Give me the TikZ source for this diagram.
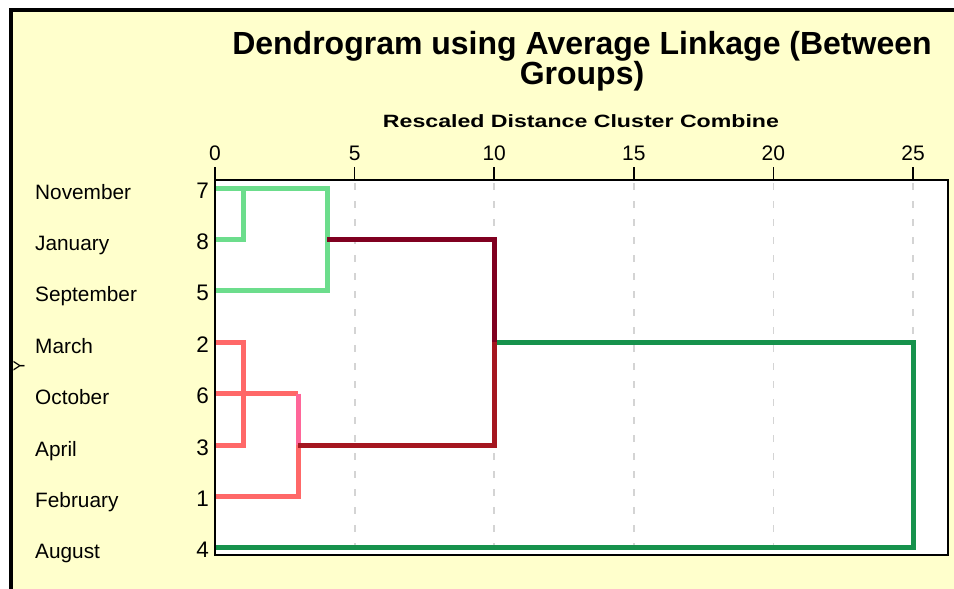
\documentclass[tikz,border=0pt]{standalone}
\usepackage{fontspec}
\setmainfont{Liberation Sans}
\usepackage{graphicx}
\usepackage{xcolor}
\usetikzlibrary{calc,positioning}

\definecolor{bgyellow}{RGB}{255,255,204}
\definecolor{lightgreen}{RGB}{108,221,140}
\definecolor{salmon}{RGB}{255,104,104}
\definecolor{pinkred}{RGB}{255,102,153}
\definecolor{darkred}{RGB}{165,22,32}
\definecolor{maroon}{RGB}{128,0,32}
\definecolor{darkgreen}{RGB}{22,146,76}
\definecolor{gridgray}{RGB}{212,212,212}

\tikzset{
  branch/.style={line width=5pt, line join=miter},
  monthlbl/.style={anchor=base west, inner sep=0pt, font=\fontsize{20.8}{20.8}\selectfont},
  caselbl/.style={anchor=base east, inner sep=0pt, font=\fontsize{22.5}{22.5}\selectfont},
  ticklbl/.style={anchor=base, inner sep=0pt, font=\fontsize{21}{21}\selectfont},
}

\begin{document}
\begin{tikzpicture}[x=1pt,y=-1pt]
\useasboundingbox (0,0) rectangle (954,589);
\fill[white] (0,0) rectangle (954,589);
\fill[bgyellow] (9,8) rectangle (954,589);

% titles
\node[inner sep=0pt, align=center, anchor=north, font=\bfseries\fontsize{32}{30}\selectfont] (title) at (582,31) {Dendrogram using Average Linkage (Between\\Groups)};
\node[inner sep=0pt, anchor=base] (xlabel) at (581,127) {\scalebox{1.3}[1]{\bfseries\fontsize{17.8}{17.8}\selectfont Rescaled Distance Cluster Combine}};

% plot area and scale
\fill[white] (215,180) rectangle (948,555);
\foreach \d in {5,10,...,25}
  \draw[gridgray, line width=1.8pt, dash pattern=on 7pt off 11pt] ({215+27.92*\d},183) -- ({215+27.92*\d},554);
\foreach \d in {0,5,...,25} {
  \draw[black, line width=1.6pt] ({215+27.92*\d},167) -- ({215+27.92*\d},180);
  \node[ticklbl] (t\d) at ({215+27.92*\d},160) {\d};
}

% cases
\foreach \c/\m [count=\i from 0] in {7/November,8/January,5/September,2/March,6/October,3/April,1/February,4/August} {
  \coordinate (r\c) at (215,{188+51.4*\i});
  \node[monthlbl] (m\c) at (35,{199+51.4*\i}) {\m};
  \node[caselbl] (n\c) at (209,{198+51.4*\i}) {\c};
}

% merge levels
\coordinate (d1) at (243,180);
\coordinate (d3) at (298,180);
\coordinate (d4) at (327,180);
\coordinate (d10) at (494,180);
\coordinate (d25) at (913,180);

% branches
\draw[branch, darkgreen] (r2 -| d10) -| (r4 -| d25) -- (r4);
\draw[branch, lightgreen] (r8) -| (r7 -| d1);
\draw[branch, lightgreen] (r7) -- (r7 -| d4) -- (r5 -| d4) -- (r5);
\draw[branch, salmon] (r2) -| (r3 -| d1) -- (r3);
\draw[branch, salmon] (r6) -- (r6 -| d3);
\draw[branch, salmon] (r1) -| (r3 -| d3);
\draw[branch, pinkred] (r6 -| d3) -- (r3 -| d3);
\draw[branch, darkred] (r3 -| d3) -| (r2 -| d10);
\draw[branch, maroon] (r2 -| d10) |- (r8 -| d4);

\draw[black, line width=1.3pt] (215,180) rectangle (948,555);

% frame
\node[rotate=90, inner sep=0pt, font=\fontsize{16}{16}\selectfont] (yaxis) at (19,366) {Y};
\draw[black, line width=4pt] (9,10) -- (954,10);
\draw[black, line width=3.5pt] (10.75,8) -- (10.75,589);
\end{tikzpicture}
\end{document}
